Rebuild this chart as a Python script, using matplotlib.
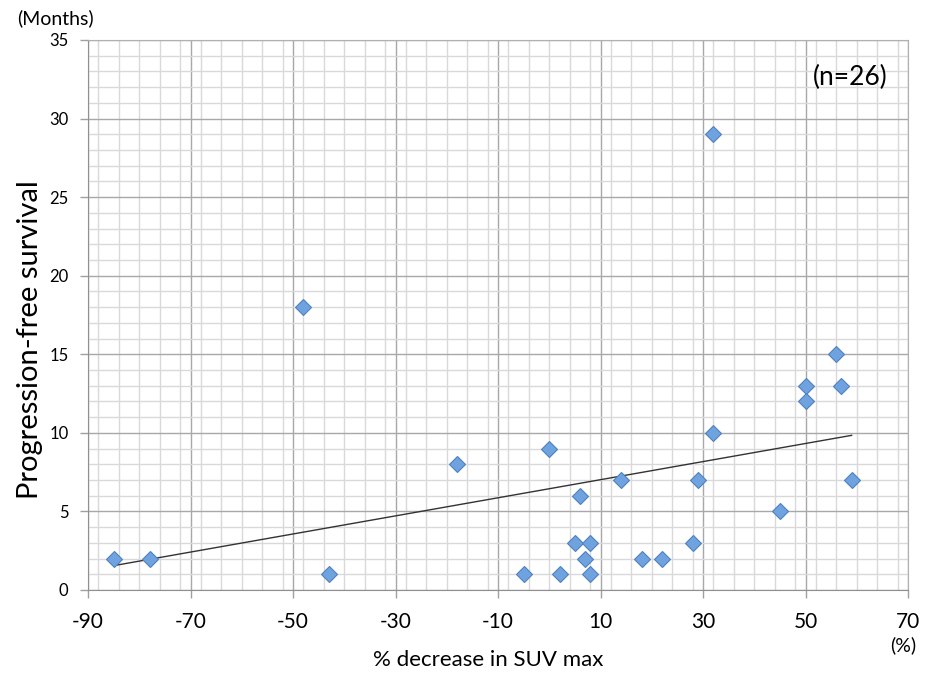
import numpy as np
import matplotlib
matplotlib.use("Agg")
import matplotlib.pyplot as plt
from matplotlib.ticker import MultipleLocator

plt.rcParams['font.family'] = ['Lato', 'DejaVu Sans']
plt.rcParams['axes.unicode_minus'] = False

suv_decrease = [-85, -78, -48, -43, -18, -5, 0, 2, 5, 6, 7, 8, 8, 14, 18, 22, 28, 29, 32, 32, 45, 50, 50, 56, 57, 59]
pfs_months = [2, 2, 18, 1, 8, 1, 9, 1, 3, 6, 2, 3, 1, 7, 2, 2, 3, 7, 29, 10, 5, 13, 12, 15, 13, 7]
x_ticks = [-90, -70, -50, -30, -10, 10, 30, 50, 70]
y_ticks = [0, 5, 10, 15, 20, 25, 30, 35]

fig = plt.figure(figsize=(9.3, 6.76), dpi=100)
ax = fig.add_axes([88/930, 86/676, 820/930, 550/676])

ax.set_xlim(-90, 70)
ax.set_ylim(0, 35)
ax.set_xticks(x_ticks)
ax.set_yticks(y_ticks)
ax.xaxis.set_minor_locator(MultipleLocator(4))
ax.yaxis.set_minor_locator(MultipleLocator(1))
ax.grid(which='minor', color='#d9d9d9', linewidth=1.0)
ax.grid(which='major', color='#a8a8a8', linewidth=1.0)
ax.set_axisbelow(True)
ax.tick_params(which='minor', length=0)
ax.tick_params(which='major', length=6, color='#a0a0a0', width=1)
ax.tick_params(axis='x', labelsize=15, pad=10)
ax.tick_params(axis='y', labelsize=12, pad=8)
for s in ax.spines.values():
    s.set_color('#b0b0b0')
ax.spines['left'].set_color('#909090')
ax.spines['bottom'].set_color('#909090')

x = np.array(suv_decrease, dtype=float)
y = np.array(pfs_months, dtype=float)
m, b = np.polyfit(x, y, 1)
xl = np.array([x.min(), x.max()])
ax.plot(xl, m*xl + b, color='#333333', linewidth=1.0, zorder=3)

ax.plot(x, y, linestyle='none', marker='D', markersize=8.5,
        markerfacecolor='#6fa3e0', markeredgecolor='#4f81bd', markeredgewidth=0.8, zorder=4)

ax.text(0.975, 0.955, '(n=26)', transform=ax.transAxes, ha='right', va='top', fontsize=19)
fig.text(17/930, 1-18/676, '(Months)', ha='left', va='center', fontsize=14)
fig.text(903/930, 1-645/676, '(%)', ha='center', va='center', fontsize=14)
ax.set_xlabel('% decrease in SUV max', fontsize=16)
ax.xaxis.set_label_coords((488-88)/820, -(650-590)/550)
ax.set_ylabel('Progression-free survival', fontsize=21, va='center')
ax.yaxis.set_label_coords((30-88)/820, (590-340)/550)

fig.savefig('out.png', dpi=100)
